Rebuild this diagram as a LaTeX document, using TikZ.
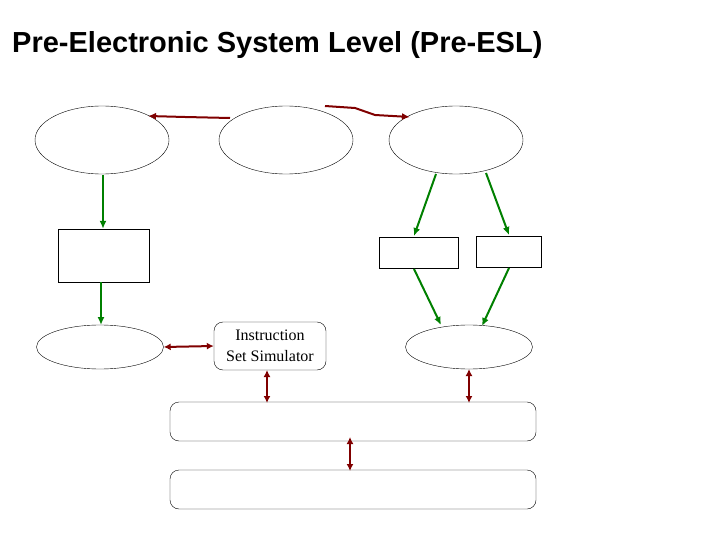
\documentclass[tikz,border=0pt]{standalone}
\usepackage{fontspec}
\usetikzlibrary{shapes.geometric,arrows.meta}
\setmainfont{Liberation Serif}
\newfontfamily\sansf{Liberation Sans}
\begin{document}
\begin{tikzpicture}[x=1pt,y=-1pt,
  el/.style={draw,ellipse,minimum width=134pt,minimum height=68pt,inner sep=0},
  sm/.style={draw,ellipse,minimum width=127pt,minimum height=44pt,inner sep=0},
  bx/.style={draw,rectangle,inner sep=0},
  bar/.style={draw,rounded corners=9pt,minimum width=366pt,minimum height=39pt,inner sep=0},
  ga/.style={draw={rgb,255:red,0;green,128;blue,0},line width=2pt,-{Latex[length=8pt,width=7pt]}},
  ra/.style={draw={rgb,255:red,128;green,0;blue,0},line width=2pt,-{Latex[length=8pt,width=7pt]}},
  rd/.style={draw={rgb,255:red,128;green,0;blue,0},line width=2pt,{Latex[length=7pt,width=7pt]}-{Latex[length=7pt,width=7pt]}}]
\useasboundingbox (0,0) rectangle (720,540);
\node[anchor=west,font=\sansf\bfseries\fontsize{29}{34}\selectfont,inner sep=0] (t) at (12,45) {Pre-Electronic System Level (Pre-ESL)};
\node[el] (e1) at (102,140) {};
\node[el] (e2) at (286,140) {};
\node[el] (e3) at (456,140) {};
\node[bx,minimum width=91pt,minimum height=53pt] (r1) at (103.5,255.5) {};
\node[bx,minimum width=79pt,minimum height=31pt] (r2) at (418.5,252.5) {};
\node[bx,minimum width=65pt,minimum height=31pt] (r3) at (508.5,251.5) {};
\node[sm] (e4) at (100,347) {};
\node[draw,rounded corners=9pt,minimum width=112pt,minimum height=48pt,inner sep=0,align=center,font=\fontsize{16}{21}\selectfont] (iss) at (270,346) {Instruction\\Set Simulator};
\node[sm] (e5) at (469,347) {};
\node[bar] (b1) at (353,421.5) {};
\node[bar] (b2) at (353,489.5) {};
\coordinate (c1) at (230,118);
\coordinate (c2) at (325,106);
\draw[ga] (103,175) -- (r1.north-|103,0);
\draw[ga] (r1.south-|101,0) -- (101,325);
\draw[ga] (436,174) -- (414,236);
\draw[ga] (486,173) -- (509,235);
\draw[ga] (414,269) -- (441,325);
\draw[ga] (509,268) -- (482,326);
\draw[ra] (c1) -- (185,117) -- (148,116);
\draw[ra] (c2) -- (355,108) -- (375,115) -- (410,117);
\draw[rd] (e4.east) -- (iss.west);
\draw[rd] (267,370) -- (267,403);
\draw[rd] (469,369) -- (469,403);
\draw[rd] (350,437) -- (350,471);
\end{tikzpicture}
\end{document}
